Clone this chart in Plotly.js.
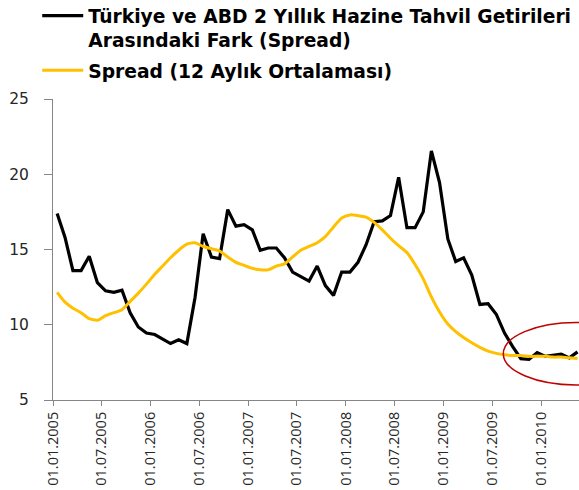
<!DOCTYPE html>
<html>
<head>
<meta charset="utf-8">
<script src="https://cdn.plot.ly/plotly-3.0.1.min.js"></script>
<style>html,body{margin:0;padding:0;background:#fff;}#chart{width:579px;height:490px;}</style>
</head>
<body>
<div id="chart"></div>
<script>
// Monthly observations (Jan 2005 - May 2010)
const months = [
  "2005-01","2005-02","2005-03","2005-04","2005-05","2005-06","2005-07","2005-08","2005-09","2005-10","2005-11","2005-12",
  "2006-01","2006-02","2006-03","2006-04","2006-05","2006-06","2006-07","2006-08","2006-09","2006-10","2006-11","2006-12",
  "2007-01","2007-02","2007-03","2007-04","2007-05","2007-06","2007-07","2007-08","2007-09","2007-10","2007-11","2007-12",
  "2008-01","2008-02","2008-03","2008-04","2008-05","2008-06","2008-07","2008-08","2008-09","2008-10","2008-11","2008-12",
  "2009-01","2009-02","2009-03","2009-04","2009-05","2009-06","2009-07","2009-08","2009-09","2009-10","2009-11","2009-12",
  "2010-01","2010-02","2010-03","2010-04","2010-05"
];

// Türkiye - ABD 2 yıllık getiri farkı (spread)
const spread = [
  17.4, 15.8, 13.6, 13.6, 14.55, 12.8, 12.25, 12.15, 12.3, 10.8, 9.85, 9.45,
  9.35, 9.05, 8.75, 9.0, 8.75, 11.8, 16.05, 14.5, 14.4, 17.65, 16.55, 16.65,
  16.3, 14.95, 15.1, 15.1, 14.45, 13.5, 13.2, 12.9, 13.9, 12.6, 11.95, 13.5,
  13.5, 14.15, 15.3, 16.85, 16.9, 17.25, 19.8, 16.45, 16.45, 17.5, 21.55, 19.45,
  15.7, 14.2, 14.45, 13.3, 11.35, 11.4, 10.7, 9.45, 8.55, 7.75, 7.7, 8.15,
  7.9, 8.0, 8.05, 7.8, 8.2
];

// 12 aylık ortalama
const spreadAvg12 = [
  12.15, 11.5, 11.1, 10.8, 10.4, 10.3, 10.6, 10.8, 11.0, 11.55, 12.1, 12.7,
  13.35, 13.9, 14.45, 14.95, 15.35, 15.45, 15.2, 15.05, 14.9, 14.5, 14.15, 13.95,
  13.75, 13.65, 13.65, 13.9, 14.05, 14.5, 14.95, 15.2, 15.45, 15.85, 16.5, 17.1,
  17.3, 17.25, 17.15, 16.8, 16.3, 15.75, 15.25, 14.8, 14.0, 13.05, 11.85, 10.85,
  10.05, 9.55, 9.15, 8.8, 8.5, 8.25, 8.1, 8.0, 7.95, 7.95, 7.9, 7.9,
  7.9, 7.85, 7.85, 7.8, 7.75
];

const seriesNames = [
  "Türkiye ve ABD 2 Yıllık Hazine Tahvil Getirileri<br>Arasındaki Fark (Spread)",
  "Spread (12 Aylık Ortalaması)"
];

const traces = [
  {
    x: months, y: spread, type: "scatter", mode: "lines",
    xperiod: "M1", xperiodalignment: "middle",
    name: seriesNames[0], legendgroup: "a",
    line: {color: "#000000", width: 3.2}
  },
  {
    x: months, y: spreadAvg12, type: "scatter", mode: "lines",
    xperiod: "M1", xperiodalignment: "middle",
    name: seriesNames[1], legendgroup: "b",
    line: {color: "#FFC000", width: 3, shape: "spline", smoothing: 0.6}
  }
];

const layout = {
  width: 579, height: 490,
  margin: {l: 53, r: 0, t: 99, b: 90, autoexpand: false},
  paper_bgcolor: "#ffffff", plot_bgcolor: "#ffffff",
  showlegend: true,
  legend: {
    x: -0.03, xanchor: "left", y: 1.339, yanchor: "top",
    valign: "top", traceorder: "grouped", tracegroupgap: 3,
    itemwidth: 41,
    font: {family: "DejaVu Sans", size: 18.7, color: "#000000", weight: "bold"},
    bgcolor: "rgba(0,0,0,0)", borderwidth: 0
  },
  xaxis: {
    type: "date",
    range: ["2005-01-01", "2010-05-22"],
    tick0: "2005-01-01", dtick: "M6", tickformat: "%d.%m.%Y",
    tickangle: -90,
    ticks: "outside", ticklen: 5, tickcolor: "#868686", tickwidth: 1,
    showline: true, linecolor: "#868686", linewidth: 1,
    showgrid: false, zeroline: false,
    tickfont: {family: "Open Sans", size: 14.5, color: "#262626"}
  },
  yaxis: {
    range: [5, 25], tick0: 5, dtick: 5,
    ticks: "outside", ticklen: 8, tickcolor: "#868686", tickwidth: 1,
    ticklabelstandoff: 12,
    showline: true, linecolor: "#868686", linewidth: 1,
    showgrid: false, zeroline: false,
    tickfont: {family: "DejaVu Sans", size: 15.5, color: "#262626"}
  },
  shapes: [
    {
      type: "circle", xref: "x", yref: "y",
      x0: "2009-08-12", x1: "2011-02-08", y0: 6.0, y1: 10.15,
      line: {color: "#C00000", width: 1.5}, layer: "above"
    }
  ]
};

Plotly.newPlot("chart", traces, layout, {displayModeBar: false, staticPlot: true});
</script>
</body>
</html>
